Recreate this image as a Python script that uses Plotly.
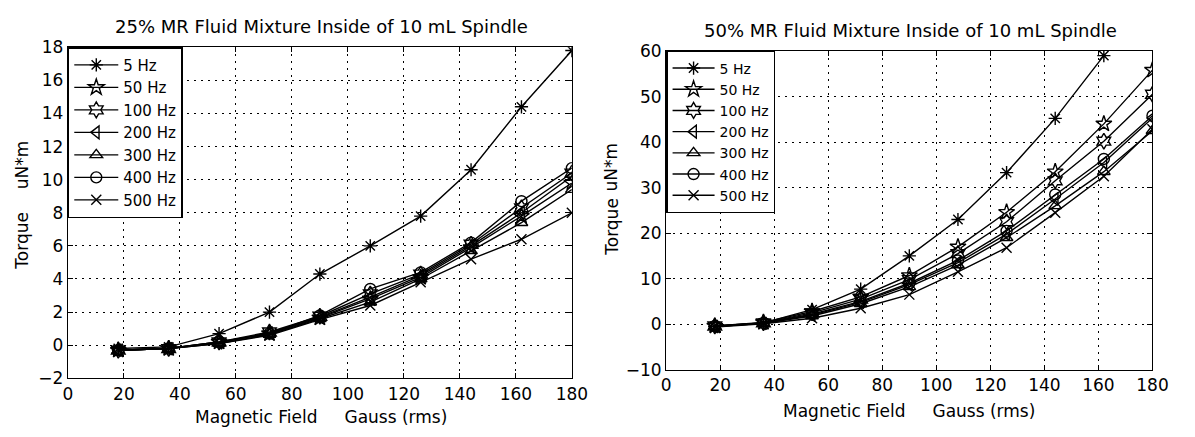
import plotly.graph_objects as go

# ---------------- data ----------------
field = [18, 36, 54, 72, 90, 108, 126, 144, 162, 180]
freq_labels = ["5 Hz", "50 Hz", "100 Hz", "200 Hz", "300 Hz", "400 Hz", "500 Hz"]

# 25% MR fluid (uN*m)
t25_5 = [-0.2, -0.1, 0.7, 2.0, 4.3, 6.0, 7.8, 10.6, 14.4, 17.8]
t25_50 = [-0.3, -0.2, 0.2, 0.7, 1.65, 2.8, 4.1, 5.9, 7.8, 9.8]
t25_100 = [-0.3, -0.2, 0.2, 0.8, 1.75, 3.1, 4.3, 6.1, 8.3, 10.4]
t25_200 = [-0.3, -0.2, 0.15, 0.75, 1.7, 2.9, 4.2, 6.0, 8.0, 10.2]
t25_300 = [-0.3, -0.2, 0.1, 0.65, 1.6, 2.6, 4.0, 5.7, 7.4, 9.4]
t25_400 = [-0.3, -0.2, 0.2, 0.7, 1.8, 3.4, 4.4, 6.2, 8.7, 10.7]
t25_500 = [-0.3, -0.2, 0.1, 0.6, 1.55, 2.4, 3.8, 5.2, 6.4, 8.0]

# 50% MR fluid (uN*m)
t50_5 = [-0.5, 0.3, 3.2, 7.7, 15.0, 23.0, 33.3, 45.2, 59.0, None]
t50_50 = [-0.4, 0.4, 2.8, 6.0, 10.7, 17.0, 24.6, 33.5, 44.0, 55.8]
t50_100 = [-0.4, 0.3, 2.5, 5.5, 9.8, 15.5, 22.5, 31.5, 40.2, 50.5]
t50_200 = [-0.5, 0.2, 2.0, 4.8, 8.7, 13.5, 19.8, 27.5, 35.5, 45.3]
t50_300 = [-0.5, 0.2, 1.8, 4.5, 8.2, 13.0, 19.0, 26.0, 33.5, 42.5]
t50_400 = [-0.4, 0.3, 2.2, 5.0, 9.0, 14.0, 20.5, 28.5, 36.3, 45.8]
t50_500 = [-0.6, 0.1, 1.3, 3.5, 6.5, 11.5, 16.8, 24.5, 32.5, 42.8]

series25 = [t25_5, t25_50, t25_100, t25_200, t25_300, t25_400, t25_500]
series50 = [t50_5, t50_50, t50_100, t50_200, t50_300, t50_400, t50_500]

x_ticks = [0, 20, 40, 60, 80, 100, 120, 140, 160, 180]
y25_ticks = [-2, 0, 2, 4, 6, 8, 10, 12, 14, 16, 18]
y50_ticks = [-10, 0, 10, 20, 30, 40, 50, 60]

title25 = "25% MR Fluid Mixture Inside of 10 mL Spindle"
title50 = "50% MR Fluid Mixture Inside of 10 mL Spindle"

# ---------------- styling ----------------
W, H = 1195, 437
FONT = "DejaVu Sans, Liberation Sans, Arial, sans-serif"
symbols = ["asterisk-open", "star-open", "hexagram-open", "triangle-left-open",
           "triangle-up-open", "circle-open", "x-thin-open"]
sizes = [11, 12, 12, 11, 11, 11, 10]

fig = go.Figure()

for i, (lab, ys) in enumerate(zip(freq_labels, series25)):
    fig.add_trace(go.Scatter(
        x=field, y=ys, name=lab, mode="lines+markers",
        line=dict(color="black", width=1.4),
        marker=dict(symbol=symbols[i], size=sizes[i], color="black",
                    line=dict(color="black", width=1.4)),
        xaxis="x", yaxis="y", legend="legend"))

for i, (lab, ys) in enumerate(zip(freq_labels, series50)):
    fig.add_trace(go.Scatter(
        x=field, y=ys, name=lab, mode="lines+markers",
        line=dict(color="black", width=1.4),
        marker=dict(symbol=symbols[i], size=sizes[i], color="black",
                    line=dict(color="black", width=1.4)),
        connectgaps=False,
        xaxis="x2", yaxis="y2", legend="legend2"))


def px(x):
    return x / W


def py(y):
    return 1 - y / H


L_left, L_right, L_top, L_bot = 64, 577, 39, 386
R_left, R_right, R_top, R_bot = 673, 1168, 43, 377

axis_common = dict(
    showline=True, linecolor="black", linewidth=1.4, mirror="ticks",
    ticks="inside", ticklen=5, tickcolor="black", tickwidth=1,
    showgrid=True, gridcolor="black", gridwidth=1.2, griddash="2px,5px",
    zeroline=False, tickfont=dict(family=FONT, size=17, color="black"),
)

fig.update_layout(
    width=W, height=H,
    margin=dict(l=0, r=0, t=0, b=0),
    paper_bgcolor="white", plot_bgcolor="white",
    font=dict(family=FONT, color="black"),
    xaxis=dict(domain=[px(L_left), px(L_right)], range=[0, 180],
               tickvals=x_ticks, anchor="y", **axis_common),
    yaxis=dict(domain=[py(L_bot), py(L_top)], range=[-2, 18],
               tickvals=y25_ticks, anchor="x", **axis_common),
    xaxis2=dict(domain=[px(R_left), px(R_right)], range=[0, 180],
                tickvals=x_ticks, anchor="y2", **axis_common),
    yaxis2=dict(domain=[py(R_bot), py(R_top)], range=[-10, 60],
                tickvals=y50_ticks, anchor="x2", **axis_common),
    legend=dict(x=px(L_left), y=py(L_top), xanchor="left", yanchor="top",
                bgcolor="white", bordercolor="black", borderwidth=1.4,
                font=dict(family=FONT, size=15, color="black"),
                itemwidth=44, tracegroupgap=0),
    legend2=dict(x=px(R_left), y=py(R_top), xanchor="left", yanchor="top",
                 bgcolor="white", bordercolor="black", borderwidth=1.4,
                 font=dict(family=FONT, size=14, color="black"),
                 itemwidth=42, tracegroupgap=0),
    showlegend=True,
)

NB = "\u00a0"
xlabel = "Magnetic Field" + NB * 5 + "Gauss (rms)"
ann = [
    dict(text=title25, x=px(322), y=py(17), font_size=18),
    dict(text=title50, x=px(922), y=py(22), font_size=18),
    dict(text=xlabel, x=px(322), y=py(427), font_size=17),
    dict(text=xlabel, x=px(920), y=py(420), font_size=17),
    dict(text="uN*m", x=px(17), y=py(162), textangle=-90, font_size=17),
    dict(text="Torque", x=px(17), y=py(242), textangle=-90, font_size=17),
    dict(text="uN*m", x=px(617), y=py(165), textangle=-90, font_size=17),
    dict(text="Torque", x=px(617), y=py(227), textangle=-90, font_size=17),
]
for a in ann:
    fs = a.pop("font_size")
    fig.add_annotation(xref="paper", yref="paper", xanchor="center", yanchor="middle",
                       showarrow=False, font=dict(family=FONT, size=fs, color="black"), **a)

fig.write_html("out.html")
